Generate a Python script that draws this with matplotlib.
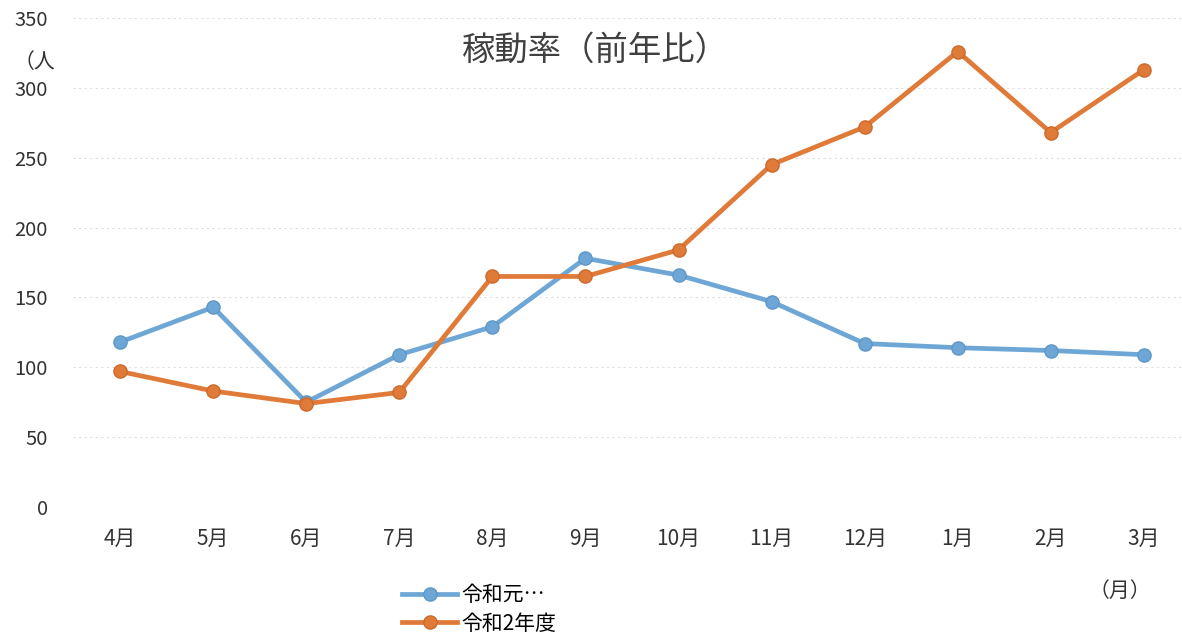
import matplotlib.pyplot as plt

plt.rcParams['font.family'] = ['Noto Sans CJK JP', 'DejaVu Sans']

months = ['4月', '5月', '6月', '7月', '8月', '9月', '10月', '11月', '12月', '1月', '2月', '3月']
r1_values = [118, 143, 75, 109, 129, 178, 166, 147, 117, 114, 112, 109]
r2_values = [97, 83, 74, 82, 165, 165, 184, 245, 272, 326, 268, 313]
series_names = ['令和元…', '令和2年度']
yticks = [0, 50, 100, 150, 200, 250, 300, 350]


def main():
    fig = plt.figure(figsize=(11.82, 6.36), dpi=100)
    ax = fig.add_axes([73 / 1182, 1 - 507 / 636, 1 - 73 / 1182, 489 / 636])
    x = list(range(len(months)))

    ax.plot(x, r1_values, color='#6ea7d5', lw=3.4, marker='o', ms=9.5,
            markeredgecolor='#5e98c8', label=series_names[0], zorder=3)
    ax.plot(x, r2_values, color='#e07a38', lw=3.4, marker='o', ms=9.5,
            markeredgecolor='#cc6a2c', label=series_names[1], zorder=4)

    ax.set_xlim(-0.506, 11.41)
    ax.set_ylim(0, 350)
    ax.set_xticks(x)
    ax.set_xticklabels(months, fontsize=15, color='#333333')
    ax.set_yticks(yticks)
    ax.set_yticklabels([str(v) for v in yticks], fontsize=14.5, color='#333333')
    ax.tick_params(length=0)
    ax.tick_params(axis='x', pad=15)
    ax.tick_params(axis='y', pad=18)
    for side in ['top', 'right', 'left', 'bottom']:
        ax.spines[side].set_visible(False)
    ax.yaxis.grid(True, color='#dedede', linestyle=(0, (2, 3)), lw=0.8)
    ax.set_axisbelow(True)

    fig.text(595 / 1182, 1 - 50 / 636, '稼動率（前年比）', fontsize=24,
             color='#404040', ha='center', va='center')
    fig.text(14 / 1182, 1 - 62 / 636, '（人', fontsize=15,
             color='#333333', ha='left', va='center')
    fig.text(1120 / 1182, 1 - 591 / 636, '（月）', fontsize=15,
             color='#333333', ha='center', va='center')

    fig.legend(loc='upper left', bbox_to_anchor=(392 / 1182, 1 - 574 / 636),
               frameon=False, fontsize=15, handlelength=2.6, handletextpad=0.25,
               labelspacing=0.3, borderpad=0)

    fig.savefig('out.png', dpi=100)


if __name__ == '__main__':
    main()
